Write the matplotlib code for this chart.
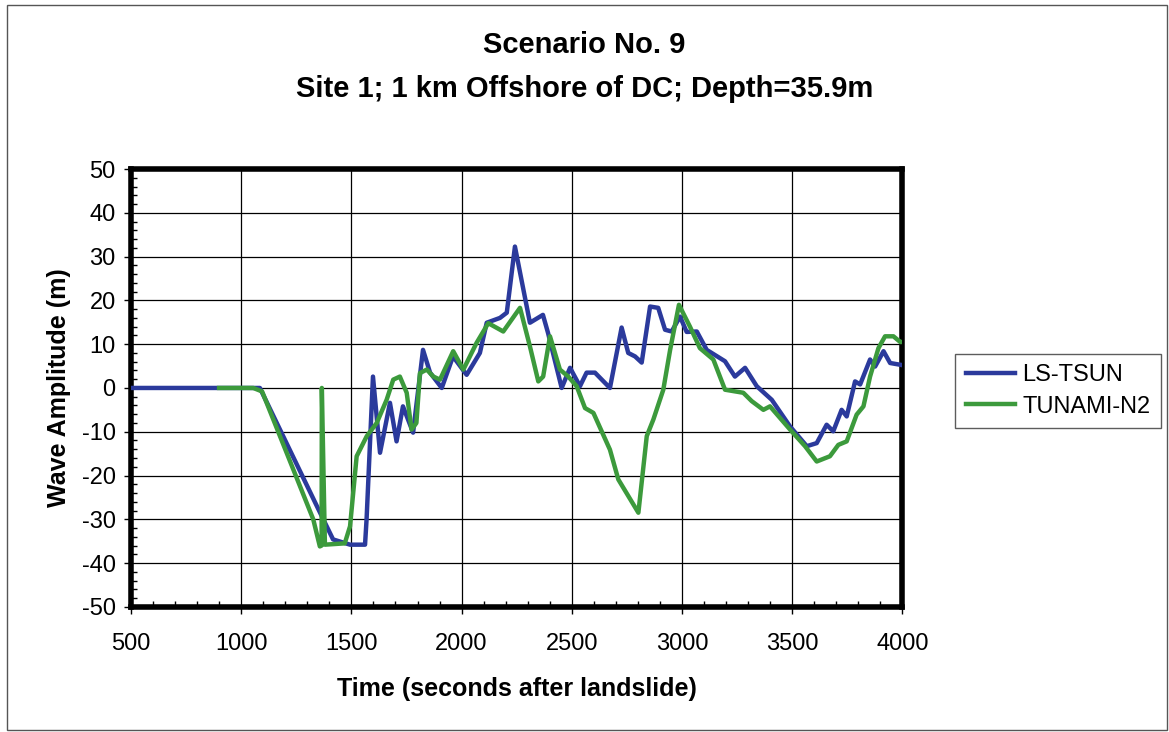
import numpy as np
import matplotlib.pyplot as plt
from matplotlib.ticker import MultipleLocator

plt.rcParams['font.family'] = ['Liberation Sans', 'DejaVu Sans']
plt.rcParams['axes.unicode_minus'] = False

# LS-TSUN (blue)
ls_t = [500, 900, 1085, 1200, 1358, 1417, 1494, 1562, 1569, 1598, 1630, 1675, 1705,
        1734, 1780, 1825, 1857, 1910, 1961, 2023, 2083, 2114, 2174, 2205, 2242,
        2310, 2369, 2392, 2454, 2492, 2537, 2567, 2605, 2673, 2726, 2756, 2787,
        2817, 2855, 2892, 2923, 2953, 2991, 3021, 3067, 3112, 3195, 3240, 3286,
        3339, 3407, 3490, 3566, 3611, 3656, 3686, 3724, 3747, 3785, 3808, 3853,
        3876, 3914, 3944, 3990, 4000]
ls_a = [0, 0, 0, -12, -28.5, -34.6, -35.8, -35.8, -30, 2.6, -14.8, -3.4, -12.2,
        -4.2, -10.2, 8.7, 3.5, 0, 7.2, 3, 8, 14.9, 16, 17.2, 32.3,
        14.9, 16.7, 12.6, 0, 4.6, 0.4, 3.5, 3.5, 0, 13.8, 8, 7.2,
        5.8, 18.6, 18.3, 13.3, 12.9, 16.3, 12.8, 12.9, 8.7, 6.1, 2.6, 4.6,
        0.4, -2.7, -8.8, -13.3, -12.6, -8.4, -9.9, -5, -6.5, 1.5, 0.8, 6.5,
        4.9, 8.4, 5.7, 5.3, 5.2]

# TUNAMI-N2 (green)
tn_t = [900, 1055, 1095, 1327, 1357, 1365, 1366, 1380, 1470, 1494, 1524, 1570,
        1615, 1660, 1690, 1720, 1751, 1773, 1795, 1811, 1842, 1872, 1902, 1962,
        2008, 2068, 2121, 2189, 2265, 2310, 2348, 2370, 2401, 2446, 2484, 2522,
        2560, 2598, 2673, 2711, 2802, 2840, 2870, 2915, 2946, 2986, 3036, 3081,
        3142, 3195, 3278, 3316, 3369, 3399, 3490, 3558, 3611, 3671, 3709, 3747,
        3792, 3823, 3853, 3891, 3921, 3959, 3990, 4000]
tn_a = [0, 0, -0.8, -30, -36.2, -36, 0, -35.8, -35.5, -31.6, -15.6, -11,
        -8, -2.7, 1.9, 2.6, -1.1, -9.5, -8, 3.4, 4.2, 2.6, 1.9, 8.4,
        4.2, 10.3, 14.8, 12.9, 18.3, 9.5, 1.5, 2.6, 11.8, 4.2, 2.6, 0.4,
        -4.6, -5.7, -14.1, -20.9, -28.5, -11, -7.2, -0.4, 8.7, 19, 14, 9.1,
        6.5, -0.4, -1.1, -3, -5, -4.2, -9.5, -13.3, -16.8, -15.6, -13, -12.2,
        -6.1, -4.2, 2.6, 9.1, 11.8, 11.8, 10.5, 10.5]

fig = plt.figure(figsize=(11.69, 7.32), dpi=100)
ax = fig.add_axes([0.112, 0.171, 0.660, 0.598])

ax.plot(ls_t, ls_a, color='#2b3a9c', lw=3.2, label='LS-TSUN', zorder=3)
ax.plot(tn_t, tn_a, color='#3c9a3c', lw=3.2, label='TUNAMI-N2', zorder=4)

ax.set_xlim(500, 4000)
ax.set_ylim(-50, 50)
ax.xaxis.set_major_locator(MultipleLocator(500))
ax.yaxis.set_major_locator(MultipleLocator(10))
ax.xaxis.set_minor_locator(MultipleLocator(100))
ax.yaxis.set_minor_locator(MultipleLocator(2))
ax.grid(True, which='major', color='black', lw=0.9)
ax.tick_params(which='major', direction='out', length=5, width=1, labelsize=17)
ax.tick_params(axis='x', which='major', pad=14)
ax.tick_params(axis='y', which='major', pad=6)
ax.tick_params(which='minor', direction='in', length=4, width=1)
for s in ax.spines.values():
    s.set_linewidth(4)

ax.set_xlabel('Time (seconds after landslide)', fontsize=18, fontweight='bold', labelpad=16)
ax.set_ylabel('Wave Amplitude (m)', fontsize=18, fontweight='bold', labelpad=8)

fig.text(0.5, 0.938, 'Scenario No. 9', ha='center', va='center', fontsize=21, fontweight='bold')
fig.text(0.5, 0.879, 'Site 1; 1 km Offshore of DC; Depth=35.9m', ha='center', va='center',
         fontsize=21, fontweight='bold')

leg = fig.legend(loc='center left', bbox_to_anchor=(0.817, 0.466), fontsize=17,
                 frameon=True, fancybox=False, edgecolor='#333333', handlelength=2.1,
                 borderpad=0.45, labelspacing=0.4, handletextpad=0.3, borderaxespad=0)
leg.get_frame().set_linewidth(1)

# outer chart border
fig.patches.append(plt.Rectangle((0.006, 0.003), 0.992, 0.99, transform=fig.transFigure,
                                 fill=False, edgecolor='#555555', lw=1))

fig.savefig('out.png', dpi=100)
